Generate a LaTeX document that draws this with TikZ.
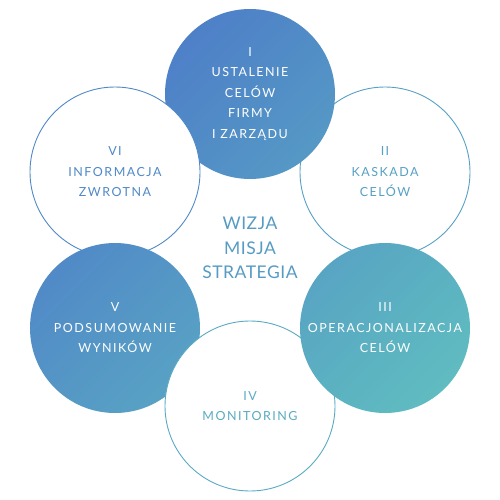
\documentclass[tikz,border=0pt]{standalone}
\usepackage{fontspec}
\newfontfamily\circfont[LetterSpace=12]{Lato}
\newfontfamily\midfont[LetterSpace=3]{Lato}
\definecolor{blueI}{RGB}{78,128,200}
\definecolor{blueIb}{RGB}{85,152,197}
\definecolor{blueV}{RGB}{81,138,199}
\definecolor{blueVb}{RGB}{88,162,196}
\definecolor{tealIII}{RGB}{88,165,195}
\definecolor{tealIIIb}{RGB}{95,188,192}
\definecolor{lineVI}{RGB}{80,137,199}
\definecolor{lineII}{RGB}{87,161,196}
\definecolor{lineIV}{RGB}{90,171,194}
\definecolor{midtext}{RGB}{86,155,196}
\tikzset{every picture/.style={line width=0.75pt}}
\tikzset{
  stage/.style={circle, minimum size=170pt, inner sep=0pt, align=center,
    font={\circfont\fontsize{12.5}{20.5}\selectfont}},
  openstage/.style={stage, draw=#1, fill=white, text=#1, line width=0.9pt},
  fullstage/.style 2 args={stage, text=white, top color=#1, bottom color=#2, shading angle=45}
}

\begin{document}
\begin{tikzpicture}[x=1pt,y=1pt,yscale=-1,xscale=1]
\useasboundingbox (0,0) rectangle (500,500);

% Circle II
\node [openstage=lineII] (kaskada) at (385,172) {II\\KASKADA\\CELÓW};
% Circle I
\node [fullstage={blueI}{blueIb}] (ustalenie) at (250,94) {I\\USTALENIE\\CELÓW\\FIRMY\\I ZARZĄDU};
% Circle VI
\node [openstage=lineVI] (informacja) at (115,172) {VI\\INFORMACJA\\ZWROTNA};
% Circle V
\node [fullstage={blueV}{blueVb}] (podsumowanie) at (115,328) {V\\PODSUMOWANIE\\WYNIKÓW};
% Circle IV
\node [openstage=lineIV] (monitoring) at (250,406) {IV\\MONITORING};
% Circle III
\node [fullstage={tealIII}{tealIIIb}] (operacjonalizacja) at (385,328) {III\\OPERACJONALIZACJA\\CELÓW};

% Text Node
\node [align=center, text=midtext, font={\midfont\fontsize{17.5}{24.5}\selectfont}] (wizja) at (250,248) {WIZJA\\MISJA\\STRATEGIA};

\end{tikzpicture}
\end{document}
